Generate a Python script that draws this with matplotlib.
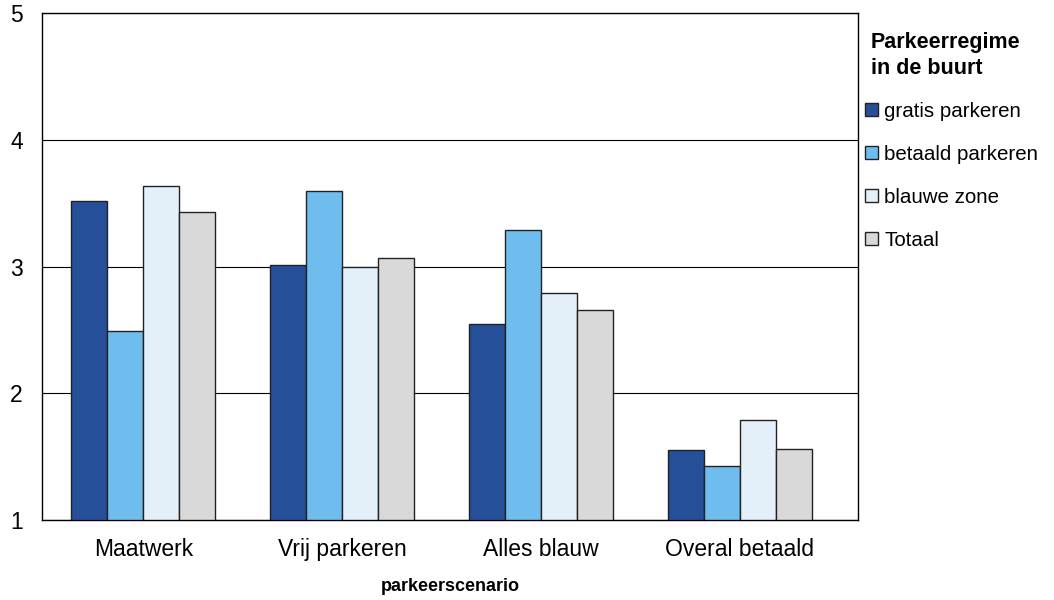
import numpy as np
import matplotlib
matplotlib.use("Agg")
import matplotlib.pyplot as plt
from matplotlib.patches import Patch

plt.rcParams['font.family'] = ['Liberation Sans', 'DejaVu Sans']

scenarios = ['Maatwerk', 'Vrij parkeren', 'Alles blauw', 'Overal betaald']
regimes = ['gratis parkeren', 'betaald parkeren', 'blauwe zone', 'Totaal']
gratis = [3.52, 3.01, 2.55, 1.55]
betaald = [2.49, 3.60, 3.29, 1.43]
blauw = [3.635, 3.00, 2.79, 1.79]
totaal = [3.43, 3.07, 2.66, 1.56]
colors = ['#254F99', '#6FBDEE', '#E3F0FA', '#D9D9D9']

fig = plt.figure(figsize=(10.54, 6), dpi=100)
ax = fig.add_axes([0.040, 0.133, 0.774, 0.845])

x = np.arange(len(scenarios))
w = 0.181
series = [gratis, betaald, blauw, totaal]
for i, vals in enumerate(series):
    ax.bar(x + (i - 1.5) * w, np.array(vals) - 1, w, bottom=1,
           color=colors[i], edgecolor='#222222', linewidth=1, zorder=3)

ax.set_xlim(-0.508, 3.593)
ax.set_ylim(1, 5)
ax.set_yticks([1, 2, 3, 4, 5])
ax.yaxis.grid(True, color='black', linewidth=0.8, zorder=0)
ax.set_xticks(x)
ax.set_xticklabels(scenarios)
ax.tick_params(axis='both', length=0, labelsize=16.5)
ax.tick_params(axis='x', pad=13)
ax.tick_params(axis='y', pad=14)
for s in ax.spines.values():
    s.set_linewidth(1)
ax.set_xlabel('parkeerscenario', fontsize=13, fontweight='bold', labelpad=12)

fig.text(0.826, 0.947, 'Parkeerregime\nin de buurt', fontsize=15.5, fontweight='bold',
         va='top', ha='left', linespacing=1.3)
handles = [Patch(facecolor=c, edgecolor='#222222', linewidth=1) for c in colors]
fig.legend(handles, regimes, loc='upper left', bbox_to_anchor=(0.805, 0.858),
           frameon=False, fontsize=14.8, handlelength=0.63, handleheight=0.63,
           handletextpad=0.3, labelspacing=1.17, borderpad=0.3)

fig.savefig('out.png', dpi=100)
